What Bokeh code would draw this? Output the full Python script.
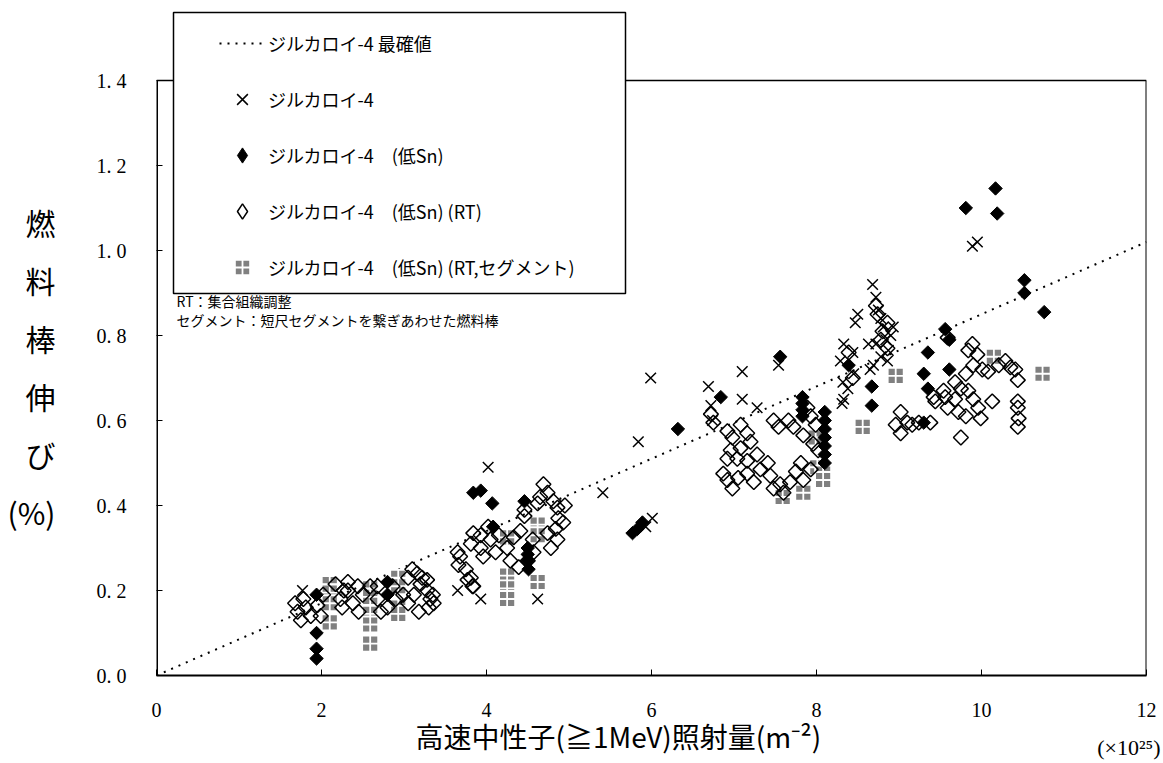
from bokeh.plotting import figure
from bokeh.models import Range1d, FixedTicker, Legend, LegendItem, BoxAnnotation, Label, Title
from bokeh.embed import file_html
from bokeh.resources import INLINE
import numpy as np

# ---------------- data ----------------
best_x = [0.0, 12.0]
best_y = [0.0, 1.02]

zr4_x = [1.77, 3.65, 3.93, 4.62, 4.02, 5.41, 5.84, 5.99, 6.01, 5.93,
         6.69, 6.72, 6.74, 7.10, 7.10, 7.28, 7.54, 8.29, 8.31, 8.32,
         8.33, 8.33, 8.38, 8.44, 8.45, 8.47, 8.50, 8.63, 8.65, 8.68,
         8.69, 8.72, 8.72, 8.75, 8.78, 8.78, 8.81, 8.84, 8.86, 8.87,
         8.90, 8.93, 9.89, 9.95]
zr4_y = [0.20, 0.20, 0.18, 0.18, 0.49, 0.43, 0.55, 0.70, 0.37, 0.35,
         0.68, 0.635, 0.60, 0.715, 0.65, 0.63, 0.73, 0.74, 0.64, 0.69,
         0.78, 0.65, 0.675, 0.76, 0.71, 0.83, 0.85, 0.78, 0.72, 0.92,
         0.73, 0.89, 0.78, 0.86, 0.84, 0.75, 0.82, 0.79, 0.74, 0.765,
         0.80, 0.82, 1.01, 1.02]

lowsn_x = [1.94, 1.94, 1.94, 1.94, 2.80, 2.80, 3.84, 3.93, 4.07, 4.08,
           4.46, 4.50, 4.50, 4.50, 4.51, 5.77, 5.83, 5.89, 6.32, 6.84,
           7.56, 7.83, 7.83, 7.83, 7.83, 8.10, 8.10, 8.10, 8.10, 8.10,
           8.10, 8.10, 8.39, 8.67, 8.67, 9.30, 9.30, 9.35, 9.35, 9.56,
           9.61, 9.61, 9.81, 10.17, 10.19, 10.52, 10.52, 10.76]
lowsn_y = [0.04, 0.063, 0.10, 0.19, 0.22, 0.19, 0.43, 0.435, 0.405, 0.35,
           0.41, 0.30, 0.285, 0.27, 0.25, 0.335, 0.345, 0.36, 0.58, 0.655,
           0.75, 0.655, 0.64, 0.625, 0.61, 0.62, 0.60, 0.58, 0.56, 0.54,
           0.52, 0.50, 0.73, 0.68, 0.635, 0.71, 0.595, 0.76, 0.675, 0.815,
           0.79, 0.72, 1.10, 1.146, 1.087, 0.93, 0.90, 0.855]

rt_x = [1.68, 1.71, 1.75, 1.78, 1.81, 1.87, 1.95, 1.99, 2.02, 2.17,
        2.23, 2.25, 2.32, 2.38, 2.45, 2.50, 2.59, 2.68, 2.72, 2.80,
        2.90, 2.99, 3.05, 3.10, 3.16, 3.20, 3.28, 3.32, 3.30, 3.18,
        3.12, 3.22, 3.05, 2.32, 2.44, 2.27, 2.68, 2.86, 3.28, 3.35, 3.36,
        3.65, 3.68, 3.75, 3.81, 3.83, 3.81, 3.93, 3.96, 4.05, 4.11,
        4.15, 4.25, 4.29, 4.33, 4.41, 4.39, 3.93, 3.84, 4.02, 4.69,
        4.74, 4.81, 4.65, 4.86, 4.87, 4.84, 4.86, 4.78, 4.74, 4.62,
        4.56, 4.57, 4.50, 3.84, 3.77, 3.66, 4.46, 4.46, 4.95, 4.93,
        6.72, 6.75, 6.92, 6.98, 7.08, 7.16, 7.20, 7.08, 6.96, 6.92,
        7.04, 6.87, 6.92, 6.98, 7.05, 7.16, 7.24, 7.32, 7.41, 7.44,
        7.48, 7.56, 7.60, 7.68, 7.75, 7.81, 7.84, 7.93, 7.48, 7.54,
        7.66, 7.72, 7.89, 7.93, 7.99, 7.84, 7.96, 8.02, 7.16, 7.28,
        8.72, 8.74, 8.39, 8.44, 8.86, 8.80, 8.78, 8.86,
        9.02, 8.96, 9.02, 9.10, 9.16, 9.24, 9.38, 9.42, 9.89, 9.95,
        9.84, 9.90, 9.81, 10.01, 10.08, 9.68, 9.75, 9.84, 9.90, 9.68,
        9.72, 9.81, 9.75, 9.96, 10.13, 9.99, 9.44, 9.56, 9.59, 10.29,
        10.35, 10.41, 10.44, 10.44, 10.44, 10.45, 10.44, 10.21, 9.54, 9.59]
rt_y = [0.17, 0.15, 0.13, 0.18, 0.16, 0.14, 0.165, 0.14, 0.19, 0.215,
        0.18, 0.16, 0.20, 0.17, 0.15, 0.19, 0.21, 0.18, 0.15, 0.16,
        0.18, 0.19, 0.17, 0.25, 0.24, 0.215, 0.20, 0.18, 0.16, 0.15,
        0.19, 0.23, 0.23, 0.22, 0.21, 0.20, 0.21, 0.21, 0.225, 0.19, 0.17,
        0.29, 0.28, 0.25, 0.23, 0.21, 0.31, 0.30, 0.28, 0.32, 0.29,
        0.33, 0.30, 0.27, 0.325, 0.34, 0.255, 0.33, 0.335, 0.35, 0.45,
        0.43, 0.41, 0.42, 0.395, 0.37, 0.345, 0.32, 0.30, 0.335, 0.405,
        0.32, 0.29, 0.27, 0.21, 0.225, 0.26, 0.39, 0.375, 0.40, 0.36,
        0.615, 0.595, 0.575, 0.56, 0.59, 0.57, 0.55, 0.535, 0.53, 0.51,
        0.51, 0.475, 0.46, 0.44, 0.465, 0.475, 0.455, 0.485, 0.50, 0.47,
        0.44, 0.45, 0.43, 0.455, 0.48, 0.50, 0.46, 0.485, 0.60, 0.585,
        0.60, 0.585, 0.63, 0.61, 0.59, 0.565, 0.545, 0.53, 0.505, 0.52,
        0.87, 0.85, 0.76, 0.70, 0.83, 0.81, 0.79, 0.77,
        0.62, 0.59, 0.57, 0.595, 0.59, 0.595, 0.595, 0.655, 0.78, 0.755,
        0.765, 0.73, 0.71, 0.72, 0.715, 0.69, 0.675, 0.67, 0.65, 0.65,
        0.62, 0.61, 0.56, 0.63, 0.645, 0.605, 0.645, 0.655, 0.63, 0.74,
        0.725, 0.72, 0.695, 0.645, 0.63, 0.605, 0.585, 0.73, 0.67, 0.795]

seg_x = [2.10, 2.10, 2.10, 2.10, 2.59, 2.59, 2.59, 2.59, 2.59,
         2.93, 2.93, 2.93, 2.93, 4.25, 4.25, 4.25, 4.25, 4.62, 4.62, 4.62,
         7.59, 7.84, 7.99, 8.01, 8.08, 8.08, 8.56, 8.96, 10.15, 10.74]
seg_y = [0.215, 0.195, 0.17, 0.125, 0.205, 0.185, 0.145, 0.12, 0.075,
         0.23, 0.21, 0.16, 0.145, 0.325, 0.235, 0.205, 0.18, 0.355, 0.33, 0.22,
         0.42, 0.43, 0.56, 0.49, 0.475, 0.46, 0.585, 0.705, 0.75, 0.71]

x_ticks = [0, 2, 4, 6, 8, 10, 12]
x_tick_labels = ["0", "2", "4", "6", "8", "10", "12"]
y_ticks = [0.0, 0.2, 0.4, 0.6, 0.8, 1.0, 1.2, 1.4]
y_tick_labels = ["0.\u00a00", "0.\u00a02", "0.\u00a04", "0.\u00a06", "0.\u00a08",
                 "1.\u00a00", "1.\u00a02", "1.\u00a04"]

legend_labels = ["ジルカロイ-4 最確値", "ジルカロイ-4", "ジルカロイ-4　(低Sn)",
                 "ジルカロイ-4　(低Sn) (RT)", "ジルカロイ-4　(低Sn) (RT,セグメント)"]
y_title = "\n燃\n料\n棒\n伸\nび\n(%)"
x_title = "高速中性子(≧1MeV)照射量(m⁻²)"
x_unit = "(×10²⁵)"
notes = ["RT：集合組織調整", "セグメント：短尺セグメントを繋ぎあわせた燃料棒"]

# ---------------- layout constants ----------------
X_MAX = 12.0
Y_MAX = 1.4
W, H = 1163, 763
B_LEFT, B_RIGHT, B_BOTTOM = 156, 17, 88
PX_PER_X = (W - B_LEFT - B_RIGHT) / X_MAX
PX_PER_Y = 425.0
Y_TOP = (H - B_BOTTOM) / PX_PER_Y      # head room above 1.4 for the legend box
FRAME_BOTTOM = H - B_BOTTOM

def sx(px):   # page px -> data x
    return (px - B_LEFT) / PX_PER_X

def sy(py):   # page px -> data y
    return (FRAME_BOTTOM - py) / PX_PER_Y

JP = "Noto Sans CJK JP"
SERIF = "Liberation Serif"

p = figure(width=W, height=H, x_range=Range1d(0, X_MAX), y_range=Range1d(0, Y_TOP),
           output_backend="svg", toolbar_location=None,
           min_border_left=B_LEFT, min_border_right=B_RIGHT,
           min_border_top=0, min_border_bottom=B_BOTTOM)
p.outline_line_color = None
p.grid.visible = False

xa = p.xaxis[0]
xa.ticker = FixedTicker(ticks=x_ticks)
xa.major_label_overrides = {t: l for t, l in zip(x_ticks, x_tick_labels)}
xa.major_tick_in = 6
xa.major_tick_out = 0
xa.minor_tick_in = 0
xa.minor_tick_out = 0
xa.axis_line_width = 2
xa.axis_line_color = "black"
xa.major_tick_line_color = "black"
xa.major_label_text_font = SERIF
xa.major_label_text_font_size = "20px"
xa.major_label_text_color = "black"
xa.major_label_standoff = 27

ya = p.yaxis[0]
ya.ticker = FixedTicker(ticks=y_ticks)
ya.major_label_overrides = {t: l for t, l in zip(y_ticks, y_tick_labels)}
ya.major_tick_in = 6
ya.major_tick_out = 0
ya.minor_tick_in = 0
ya.minor_tick_out = 0
ya.axis_line_color = None
ya.major_tick_line_color = "black"
ya.major_label_text_font = SERIF
ya.major_label_text_font_size = "20px"
ya.major_label_text_color = "black"
ya.major_label_standoff = 30
ya.axis_label = y_title
ya.axis_label_orientation = "horizontal"
ya.axis_label_text_font = JP
ya.axis_label_text_font_size = "30px"
ya.axis_label_text_font_style = "normal"
ya.axis_label_text_color = "black"
ya.axis_label_text_line_height = 1.32
ya.axis_label_standoff = 38

# frame lines (left, right, top) limited to the 0..1.4 data frame
p.segment(x0=[0], y0=[0], x1=[0], y1=[Y_MAX], line_color="black", line_width=3)
p.segment(x0=[X_MAX], y0=[0], x1=[X_MAX], y1=[Y_MAX], line_color="black", line_width=2)
p.segment(x0=[0], y0=[Y_MAX], x1=[X_MAX], y1=[Y_MAX], line_color="black", line_width=1.5)

best = p.line(best_x, best_y, line_color="black", line_width=2, line_dash="2 6")
seg = p.scatter(seg_x, seg_y, marker="square_cross", size=16,
                fill_color="#808080", line_color="white", line_width=1.8)
rt = p.scatter(rt_x, rt_y, marker="square", angle=np.pi / 4, size=10.5,
               fill_color=None, line_color="black", line_width=1.5)
low = p.scatter(lowsn_x, lowsn_y, marker="square", angle=np.pi / 4, size=9.5,
                fill_color="black", line_color="black", line_width=1)
zr = p.scatter(zr4_x, zr4_y, marker="x", size=15, line_color="black", line_width=1.5)

# legend-only glyphs (legend markers are never rotated, so use diamond shapes there)
nan_pt = [float("nan")]
leg_low = p.scatter(x=nan_pt, y=nan_pt, marker="diamond", fill_color="black",
                    line_color="black")
leg_rt = p.scatter(x=nan_pt, y=nan_pt, marker="diamond", fill_color=None,
                   line_color="black", line_width=1.5)

# legend box
box = BoxAnnotation(left=sx(173), right=sx(625), top=sy(12), bottom=sy(293),
                    fill_color="white", fill_alpha=1.0, line_color="black",
                    line_width=1.5, line_alpha=1.0)
p.add_layout(box)

legend = Legend(items=[LegendItem(label=legend_labels[0], renderers=[best]),
                       LegendItem(label=legend_labels[1], renderers=[zr]),
                       LegendItem(label=legend_labels[2], renderers=[leg_low]),
                       LegendItem(label=legend_labels[3], renderers=[leg_rt]),
                       LegendItem(label=legend_labels[4], renderers=[seg])],
                location=(219 - B_LEFT, FRAME_BOTTOM - 286),
                orientation="vertical", glyph_width=46, glyph_height=38,
                label_height=20, spacing=18, padding=0, margin=0,
                border_line_color=None, background_fill_alpha=0.0,
                label_standoff=3, label_text_font=JP, label_text_font_size="18px",
                label_text_color="black")
p.add_layout(legend)

for txt, py in zip(notes, [300, 319]):
    p.add_layout(Label(x=sx(176), y=sy(py), text=txt, text_font=JP,
                       text_font_size="14px", text_align="left",
                       text_baseline="middle", text_color="black"))

t1 = Title(text=x_title, align="left", offset=415 - B_LEFT, text_font=JP,
           text_font_size="28px", text_font_style="normal", text_color="black",
           standoff=-8, vertical_align="top")
p.add_layout(t1, "below")
t2 = Title(text=x_unit, align="right", offset=-(1160 - (W - B_RIGHT)), text_font=SERIF,
           text_font_size="22px", text_font_style="normal", text_color="black",
           standoff=-38, vertical_align="top")
p.add_layout(t2, "below")

open("out.html", "w").write(file_html(p, INLINE))
